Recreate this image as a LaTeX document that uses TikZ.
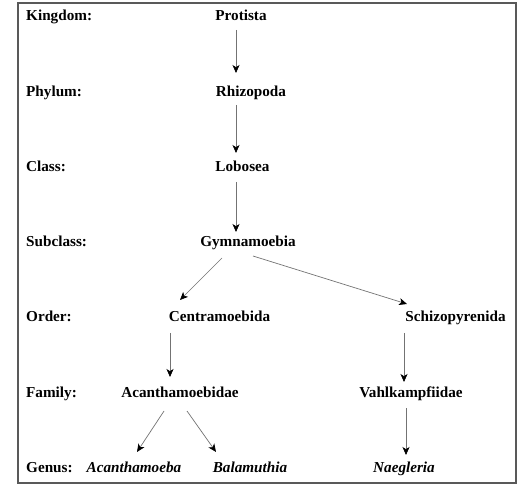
\documentclass[tikz,border=0pt]{standalone}
\usepackage{fontspec}
\setmainfont{Liberation Serif}
\usepackage{tikz}
\usetikzlibrary{arrows.meta,calc}
\tikzset{
  rank/.style={anchor=base west,inner sep=0pt,font=\bfseries\fontsize{15.2}{18}\selectfont},   % rank label
  taxon/.style={anchor=base,inner sep=0pt,font=\bfseries\fontsize{15.2}{18}\selectfont},       % taxon name
  genus/.style={taxon,font=\bfseries\itshape\fontsize{15.2}{18}\selectfont},                   % genus name
  arr/.style={-{Stealth[length=8pt,width=7pt,inset=2.2pt,black]},black!55,line width=0.7pt},
  frame/.style={draw=black!65,line width=1.3pt},
}

\begin{document}
\begin{tikzpicture}[x=1pt,y=-1pt]
  \useasboundingbox (0,0) rectangle (525,486);
  \draw[frame] (18,3) rectangle (516,483);
  % ranks
  \node[rank] (kingdom) at (26,21) {Kingdom:};
  \node[rank] (phylum) at (26,97) {Phylum:};
  \node[rank] (class) at (26,172) {Class:};
  \node[rank] (subclass) at (26,247) {Subclass:};
  \node[rank] (order) at (26,322) {Order:};
  \node[rank] (family) at (26,398) {Family:};
  \node[rank] (genusrank) at (26,472) {Genus:};
  % taxa
  \node[taxon] (protista) at (241,21) {Protista};
  \node[taxon] (rhizopoda) at (251,97) {Rhizopoda};
  \node[taxon] (lobosea) at (242.5,172) {Lobosea};
  \node[taxon] (gymna) at (248,247) {Gymnamoebia};
  \node[taxon] (centra) at (219.5,322) {Centramoebida};
  \node[taxon] (schizo) at (455.5,322) {Schizopyrenida};
  \node[taxon] (acanthidae) at (180,398) {Acanthamoebidae};
  \node[taxon] (vahl) at (411,398) {Vahlkampfiidae};
  \node[genus] (acanth) at (134,472) {Acanthamoeba};
  \node[genus] (balam) at (250,472) {Balamuthia};
  \node[genus] (naeg) at (404,472) {Naegleria};
  % arrows
  \draw[arr] ($(protista.base)+(-5,9)$) -- ($(rhizopoda.base)+(-15,-24)$);
  \draw[arr] ($(rhizopoda.base)+(-15,8)$) -- ($(lobosea.base)+(-6.5,-19)$);
  \draw[arr] ($(lobosea.base)+(-6.5,10)$) -- ($(gymna.base)+(-12,-15)$);
  \draw[arr] ($(gymna.base)+(-26,11)$) -- ($(centra.base)+(-39.5,-22)$);
  \draw[arr] ($(gymna.base)+(5,9)$) -- ($(schizo.base)+(-48.5,-18)$);
  \draw[arr] ($(centra.base)+(-49.5,11)$) -- ($(acanthidae.base)+(-10,-21)$);
  \draw[arr] ($(schizo.base)+(-51.5,11)$) -- ($(vahl.base)+(-7,-16)$);
  \draw[arr] ($(acanthidae.base)+(-16,13)$) -- ($(acanth.base)+(3,-20)$);
  \draw[arr] ($(acanthidae.base)+(7,13)$) -- ($(balam.base)+(-34,-20)$);
  \draw[arr] ($(vahl.base)+(-5,10)$) -- ($(naeg.base)+(2,-17)$);
\end{tikzpicture}
\end{document}
